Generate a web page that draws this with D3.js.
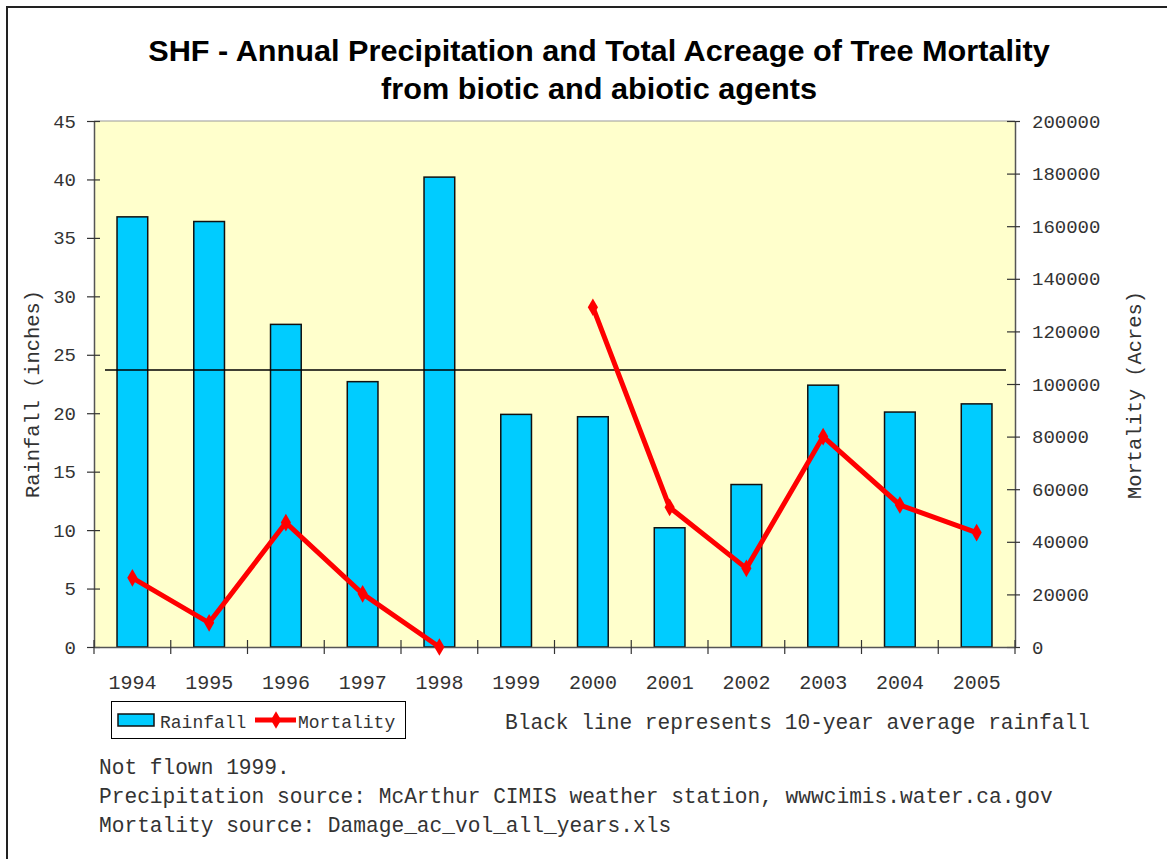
<!DOCTYPE html>
<html>
<head>
<meta charset="utf-8">
<script src="https://cdn.jsdelivr.net/npm/d3@7"></script>
<style>
  html, body { margin: 0; padding: 0; background: #fff; }
  svg { display: block; }
  .mono { font-family: "Liberation Mono", "Courier New", monospace; fill: #333; }
  .title { font-family: "Liberation Sans", Arial, sans-serif; font-weight: bold; fill: #000; }
</style>
</head>
<body>
<svg id="chart" width="1167" height="859"></svg>
<script>
// Years on the category axis
const years = ["1994", "1995", "1996", "1997", "1998", "1999", "2000", "2001", "2002", "2003", "2004", "2005"];
// Annual rainfall, inches
const rainfall = [36.8, 36.4, 27.6, 22.7, 40.2, 19.9, 19.7, 10.2, 13.9, 22.4, 20.1, 20.8];
// Total acreage of tree mortality (1999 not flown)
const mortality = [26300, 9200, 47300, 20200, 0, null, 129200, 53100, 29900, 80000, 54000, 43500];
// 10-year average rainfall, inches
const avgRainfall = 23.7;
// Axis tick values
const rainTicks = [0, 5, 10, 15, 20, 25, 30, 35, 40, 45];
const mortTicks = [0, 20000, 40000, 60000, 80000, 100000, 120000, 140000, 160000, 180000, 200000];
// Title lines
const titleLines = [
  "SHF - Annual Precipitation and Total Acreage of Tree Mortality",
  "from biotic and abiotic agents"
];
// Footnotes
const notes = [
  "Not flown 1999.",
  "Precipitation source: McArthur CIMIS weather station, wwwcimis.water.ca.gov",
  "Mortality source: Damage_ac_vol_all_years.xls"
];

const svg = d3.select("#chart");
const plot = { left: 94, right: 1015, top: 121, bottom: 647 };

// outer frame
svg.append("path")
  .attr("d", `M7,859 V7 H1167`)
  .attr("fill", "none").attr("stroke", "#222").attr("stroke-width", 2);

// title, condensed horizontally to a narrow bold face
const titleG = svg.append("g");
const titleText = titleG.append("text").attr("class", "title")
  .attr("text-anchor", "middle").attr("font-size", 29);
titleText.selectAll("tspan").data(titleLines).join("tspan")
  .attr("x", 0).attr("y", (d, i) => 61 + i * 38)
  .text((d) => d);
const titleWidth = titleText.select("tspan").node().getComputedTextLength();
const sx = 902 / titleWidth;
titleG.attr("transform", `translate(599,0) scale(${sx},1)`);

// scales
const x = d3.scaleBand().domain(years).range([plot.left, plot.right]);
const yRain = d3.scaleLinear().domain([0, 45]).range([plot.bottom, plot.top]);
const yMort = d3.scaleLinear().domain([0, 200000]).range([plot.bottom, plot.top]);

// plot background
svg.append("rect")
  .attr("x", plot.left).attr("y", plot.top)
  .attr("width", plot.right - plot.left).attr("height", plot.bottom - plot.top)
  .attr("fill", "#FFFFCC");
svg.append("line")
  .attr("x1", plot.left).attr("x2", plot.right)
  .attr("y1", plot.top).attr("y2", plot.top)
  .attr("stroke", "#999").attr("stroke-width", 1);

// rainfall bars
const barW = x.bandwidth() * 0.4;
svg.append("g").selectAll("rect").data(years).join("rect")
  .attr("x", (d) => x(d) + x.bandwidth() / 2 - barW / 2)
  .attr("y", (d, i) => yRain(rainfall[i]))
  .attr("width", barW)
  .attr("height", (d, i) => yRain(0) - yRain(rainfall[i]))
  .attr("fill", "#00CCFF")
  .attr("stroke", "#111").attr("stroke-width", 1.5);

// 10-year average line
svg.append("line")
  .attr("x1", plot.left + 11).attr("x2", plot.right - 9)
  .attr("y1", yRain(avgRainfall)).attr("y2", yRain(avgRainfall))
  .attr("stroke", "#000").attr("stroke-width", 1.5);

// axes
function styleAxis(g) {
  g.selectAll(".domain").attr("stroke", "#555").attr("stroke-width", 1.5);
  g.selectAll(".tick line").attr("stroke", "#333").attr("stroke-width", 1.2);
  g.selectAll(".tick text").attr("class", "mono").attr("font-size", 19)
    .attr("font-family", null).attr("fill", "#3a3a3a");
}

const leftAxis = svg.append("g").attr("transform", `translate(${plot.left},0)`)
  .call(d3.axisLeft(yRain).tickValues(rainTicks).tickSize(7).tickPadding(11).tickSizeOuter(0));
leftAxis.selectAll(".tick line").attr("x2", 6).attr("x1", -7);
styleAxis(leftAxis);

const rightAxis = svg.append("g").attr("transform", `translate(${plot.right},0)`)
  .call(d3.axisRight(yMort).tickValues(mortTicks).tickFormat(d3.format("d")).tickSize(5).tickPadding(12).tickSizeOuter(0));
rightAxis.selectAll(".tick line").attr("x1", -8).attr("x2", 5);
styleAxis(rightAxis);

const bottomAxis = svg.append("g").attr("transform", `translate(0,${plot.bottom})`)
  .call(d3.axisBottom(x).tickSize(0).tickPadding(0).tickSizeOuter(0));
bottomAxis.select(".domain").attr("stroke", "#555").attr("stroke-width", 1.5);
bottomAxis.selectAll(".tick text").attr("class", "mono").attr("font-family", null)
  .attr("font-size", 20).attr("dy", null).attr("y", 42).attr("fill", "#3a3a3a");
bottomAxis.selectAll(".tick line").remove();
// category boundary ticks
svg.append("g").selectAll("line").data(years.concat(["end"])).join("line")
  .attr("x1", (d, i) => plot.left + i * x.step())
  .attr("x2", (d, i) => plot.left + i * x.step())
  .attr("y1", plot.bottom - 7).attr("y2", plot.bottom + 7)
  .attr("stroke", "#333").attr("stroke-width", 1.2);

// axis titles
svg.append("text").attr("class", "mono").attr("font-size", 20.4)
  .attr("text-anchor", "middle")
  .attr("transform", `translate(39,394) rotate(-90)`)
  .text("Rainfall (inches)");
svg.append("text").attr("class", "mono").attr("font-size", 20.4)
  .attr("text-anchor", "middle")
  .attr("transform", `translate(1141,395) rotate(-90)`)
  .text("Mortality (Acres)");

// mortality line with gap for missing year
const cx = (d) => x(d) + x.bandwidth() / 2;
const line = d3.line()
  .defined((d, i) => mortality[i] !== null)
  .x((d) => cx(d))
  .y((d, i) => yMort(mortality[i]));
svg.append("path").datum(years)
  .attr("d", line)
  .attr("fill", "none").attr("stroke", "#FF0000").attr("stroke-width", 5)
  .attr("stroke-linejoin", "miter");

const diamond = d3.symbol().type(d3.symbolDiamond).size(90);
svg.append("g").selectAll("path")
  .data(years.filter((d, i) => mortality[i] !== null))
  .join("path")
  .attr("d", diamond)
  .attr("transform", (d) => `translate(${cx(d)},${yMort(mortality[years.indexOf(d)])})`)
  .attr("fill", "#FF0000");

// legend
const lg = svg.append("g");
lg.append("rect").attr("x", 111.5).attr("y", 701.5).attr("width", 294).attr("height", 37)
  .attr("fill", "#fff").attr("stroke", "#000").attr("stroke-width", 1);
lg.append("rect").attr("x", 118).attr("y", 714).attr("width", 36).attr("height", 12)
  .attr("fill", "#00CCFF").attr("stroke", "#111").attr("stroke-width", 1.5);
lg.append("text").attr("class", "mono").attr("font-size", 18)
  .attr("x", 160).attr("y", 728).text("Rainfall");
lg.append("line").attr("x1", 255).attr("x2", 296).attr("y1", 720).attr("y2", 720)
  .attr("stroke", "#FF0000").attr("stroke-width", 5);
lg.append("path").attr("d", diamond).attr("transform", "translate(276,720)").attr("fill", "#FF0000");
lg.append("text").attr("class", "mono").attr("font-size", 18)
  .attr("x", 298).attr("y", 728).text("Mortality");

svg.append("text").attr("class", "mono").attr("font-size", 21.2)
  .attr("x", 505).attr("y", 729).text("Black line represents 10-year average rainfall");

// footnotes
svg.append("g").selectAll("text").data(notes).join("text")
  .attr("class", "mono").attr("font-size", 21.2)
  .attr("x", 99).attr("y", (d, i) => 774 + i * 29)
  .text((d) => d);
</script>
</body>
</html>
